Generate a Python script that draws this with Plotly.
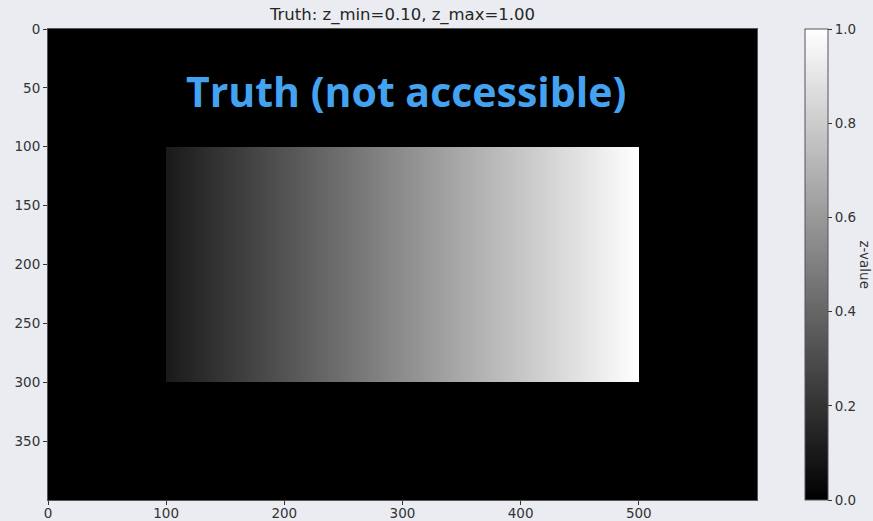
import numpy as np
import plotly.graph_objects as go

# Field extent and the bright rectangle inside it
width_units, height_units = 600, 400
rect_x = [100, 500]
rect_y = [100, 300]
z_min, z_max = 0.10, 1.00

x_ticks = [0, 100, 200, 300, 400, 500]
y_ticks = [0, 50, 100, 150, 200, 250, 300, 350]
cbar_ticks = [0.0, 0.2, 0.4, 0.6, 0.8, 1.0]

# Build the truth field: zero outside, left-to-right ramp z_min -> z_max inside
xc = np.arange(width_units) + 0.5
yc = np.arange(height_units) + 0.5
ramp = z_min + (z_max - z_min) * (xc - rect_x[0]) / (rect_x[1] - rect_x[0])
inside_x = (xc >= rect_x[0]) & (xc < rect_x[1])
inside_y = (yc >= rect_y[0]) & (yc < rect_y[1])
field = np.where(inside_y[:, None] & inside_x[None, :], ramp[None, :], 0.0)
field = np.round(field, 4)

bg = "#eaecf1"
tick_font = dict(family="DejaVu Sans", size=13.5, color="#333333")

fig = go.Figure(
    go.Heatmap(
        x=xc,
        y=yc,
        z=field,
        zmin=0.0,
        zmax=1.0,
        colorscale=[[0, "black"], [1, "white"]],
        hoverinfo="skip",
        colorbar=dict(
            x=(805 - 48) / 709,
            xanchor="left",
            xpad=0,
            ypad=0,
            y=0.5,
            yanchor="middle",
            len=1.0,
            lenmode="fraction",
            thickness=23,
            thicknessmode="pixels",
            outlinewidth=1,
            outlinecolor="#555555",
            ticks="outside",
            ticklen=4,
            tickcolor="#333333",
            tickvals=cbar_ticks,
            ticktext=[f"{v:.1f}" for v in cbar_ticks],
            tickfont=tick_font,
        ),
    )
)

axis_style = dict(
    ticks="outside",
    ticklen=4,
    tickcolor="#333333",
    tickfont=tick_font,
    showgrid=False,
    zeroline=False,
    showline=True,
    linecolor="#555555",
    linewidth=1,
    mirror=True,
    automargin=False,
)
fig.update_xaxes(range=[0, width_units], tickvals=x_ticks, ticklabelstandoff=-3, **axis_style)
fig.update_yaxes(range=[height_units, 0], tickvals=y_ticks, **axis_style)

fig.add_annotation(
    x=303,
    y=53,
    xref="x",
    yref="y",
    text="<b>Truth (not accessible)</b>",
    showarrow=False,
    font=dict(family="Open Sans", size=41, color="#44a3f0"),
)

fig.add_annotation(
    x=(865 - 48) / 709,
    y=0.5,
    xref="paper",
    yref="paper",
    xanchor="center",
    yanchor="middle",
    text="z-value",
    textangle=90,
    showarrow=False,
    font=dict(family="DejaVu Sans", size=13.5, color="#333333"),
)

fig.update_layout(
    width=873,
    height=521,
    autosize=False,
    margin=dict(l=48, r=116, t=29, b=21, autoexpand=False),
    paper_bgcolor=bg,
    plot_bgcolor="black",
    title=dict(
        text="Truth: z_min=0.10, z_max=1.00",
        x=(48 + 757) / 2 / 873,
        xanchor="center",
        y=1 - 14 / 521,
        yanchor="middle",
        font=dict(family="DejaVu Sans", size=16.5, color="#262626"),
    ),
)

fig.write_html("out.html")
